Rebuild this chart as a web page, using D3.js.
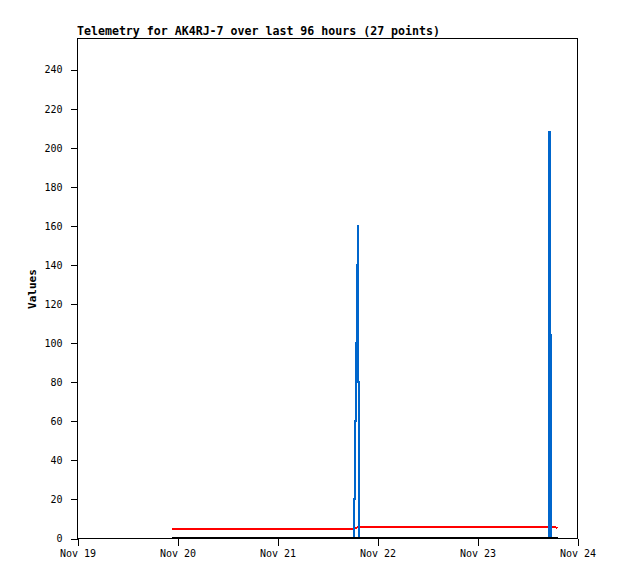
<!DOCTYPE html>
<html><head><meta charset="utf-8">
<script src="https://cdn.jsdelivr.net/npm/d3@7"></script>
<style>
html,body{margin:0;padding:0;background:#fff;}
svg{display:block;}
text{font-family:"DejaVu Sans Mono",monospace;}
</style></head>
<body><svg id="c" width="618" height="579"></svg>
<script>
const times = [
 "2023-11-19T22:34","2023-11-20T06:00","2023-11-20T14:00","2023-11-20T22:00",
 "2023-11-21T06:00","2023-11-21T12:00","2023-11-21T16:00",
 "2023-11-21T18:14","2023-11-21T18:23","2023-11-21T18:39","2023-11-21T18:50",
 "2023-11-21T19:00","2023-11-21T19:12","2023-11-21T19:24","2023-11-21T19:38",
 "2023-11-22T00:00","2023-11-22T04:00","2023-11-22T10:00","2023-11-22T16:00",
 "2023-11-23T02:00","2023-11-23T10:00",
 "2023-11-23T17:00","2023-11-23T17:10","2023-11-23T17:24","2023-11-23T17:35",
 "2023-11-23T18:43","2023-11-23T19:12"];
const blueValues = [0,0,0,0,0,0,0, 0,20,60,100,140,160,80,0, 0,0,0,0,0,0, 0,208,104,0, 0,0];
const redValues = [4.8,4.8,4.8,4.8,4.8,4.8,4.8, 4.8,4.8,4.9,5.1,5.3,5.5,5.6,5.6, 5.6,5.6,5.6,5.6,5.6,5.6, 5.6,5.6,5.6,5.6, 5.6,4.9];
const blackValues = times.map(() => 0);
const yTicks = [0,20,40,60,80,100,120,140,160,180,200,220,240];
const xDomain = ["2023-11-19T00:00","2023-11-24T00:00"];
const title = "Telemetry for AK4RJ-7 over last 96 hours (27 points)";
const yLabel = "Values";

const parse = d3.utcParse("%Y-%m-%dT%H:%M");
const svg = d3.select("#c");
const L=77.5, R=577.5, T=38.5, B=538.5;
const x = d3.scaleUtc().domain(xDomain.map(parse)).range([L,R]);
const y = d3.scaleLinear().domain([0,256]).range([B,T]);

svg.append("rect").attr("x",L).attr("y",T).attr("width",R-L).attr("height",B-T)
  .attr("fill","none").attr("stroke","#000").attr("stroke-width",1).attr("shape-rendering","crispEdges");

svg.append("text").attr("x",77).attr("y",35).attr("font-size","11.6px").attr("font-weight","bold").text(title);

const yAxis = d3.axisLeft(y).tickValues(yTicks).tickSize(7).tickPadding(8);
const gy = svg.append("g").attr("transform",`translate(${L},0)`).call(yAxis);
gy.select(".domain").remove();
gy.selectAll("text").attr("font-size","10px").attr("font-family","DejaVu Sans Mono").attr("fill","#000");
gy.selectAll("line").attr("shape-rendering","crispEdges");

const xAxis = d3.axisBottom(x).ticks(d3.utcDay.every(1)).tickFormat(d3.utcFormat("%b %d")).tickSize(7).tickPadding(4);
const gx = svg.append("g").attr("transform",`translate(0,${B})`).call(xAxis);
gx.select(".domain").remove();
gx.selectAll("text").attr("font-size","10px").attr("font-family","DejaVu Sans Mono").attr("fill","#000");
gx.selectAll("line").attr("shape-rendering","crispEdges");

svg.append("text").attr("transform","translate(36,289) rotate(-90)").attr("text-anchor","middle")
  .attr("font-size","11px").attr("font-weight","bold").text(yLabel);

const pts = times.map(parse);
function series(vals,color,curve){
  const line = d3.line().curve(curve).x((d,i)=>x(pts[i])).y(d=>y(d)-0.5);
  svg.append("path").datum(vals).attr("d",line).attr("fill","none")
    .attr("stroke",color).attr("stroke-width",2).attr("stroke-linejoin","miter")
    .attr("shape-rendering","crispEdges");
}
series(redValues,"#ff0000",d3.curveLinear);
series(blueValues,"#0066cc",d3.curveStepAfter);
series(blackValues,"#000000",d3.curveLinear);
</script></body></html>
